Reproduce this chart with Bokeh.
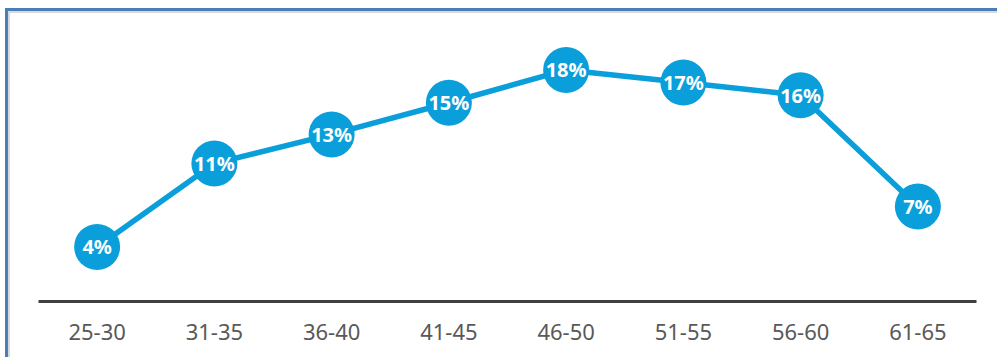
from bokeh.plotting import figure
from bokeh.models import Range1d, ColumnDataSource
from bokeh.embed import file_html
from bokeh.resources import INLINE
from bokeh.core.properties import value

age_groups = ["25-30", "31-35", "36-40", "41-45", "46-50", "51-55", "56-60", "61-65"]
shares = [4.0, 10.6, 12.9, 15.4, 18.0, 17.0, 16.0, 7.2]
share_labels = ["4%", "11%", "13%", "15%", "18%", "17%", "16%", "7%"]

BLUE = "#0A9FDA"

src = ColumnDataSource(dict(x=age_groups, y=shares, label=share_labels))

p = figure(
    x_range=age_groups,
    y_range=Range1d(-0.32, 22.62),
    width=992,
    height=349,
    output_backend="svg",
    toolbar_location=None,
    min_border_left=30,
    min_border_right=24,
    min_border_top=0,
    min_border_bottom=59,
)
p.margin = (8, 0, 0, 5)
p.styles = {
    "border-left": "3px solid #4A7EBB",
    "border-top": "3px solid #4A7EBB",
    "box-shadow": "inset 2px 2px 0 #D9D9D9",
}
p.border_fill_color = None
p.background_fill_color = None
p.outline_line_color = None

p.line("x", "y", source=src, line_width=5.5, line_color=BLUE)
p.scatter("x", "y", source=src, size=46, fill_color=BLUE, line_color=None)
p.text("x", "y", text="label", source=src, text_align="center", text_baseline="middle",
       text_color="white", text_font_style="bold", text_font_size="20px",
       text_font=value("Noto Sans"))

p.yaxis.visible = False
p.xgrid.grid_line_color = None
p.ygrid.grid_line_color = None
p.xaxis.axis_line_width = 3
p.xaxis.axis_line_color = "#404040"
p.xaxis.major_tick_line_color = None
p.xaxis.minor_tick_line_color = None
p.xaxis.major_label_text_font = "Noto Sans"
p.xaxis.major_label_text_font_size = "22px"
p.xaxis.major_label_text_color = "#595959"
p.xaxis.major_label_standoff = 16

open("out.html", "w").write(file_html(p, INLINE))
